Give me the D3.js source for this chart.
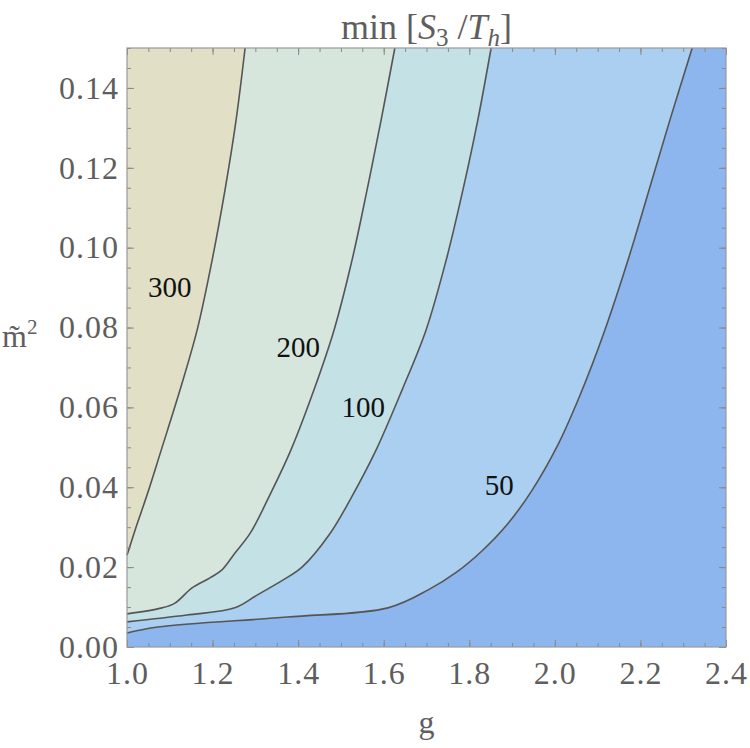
<!DOCTYPE html>
<html>
<head>
<meta charset="utf-8">
<script src="https://cdn.jsdelivr.net/npm/d3@7"></script>
<style>
  body { margin: 0; background: #fff; }
  text { font-family: "Liberation Serif", serif; }
</style>
</head>
<body>
<svg id="chart" width="750" height="748"></svg>
<script>
// contour lines, [g, m^2]
const contour300 = [[1.276, 0.1500], [1.255, 0.1320], [1.229, 0.1144], [1.199, 0.0969], [1.164, 0.0794],
  [1.124, 0.0644], [1.080, 0.0493], [1.047, 0.0381], [1.023, 0.0306], [1.000, 0.0230]];
const contour200 = [[1.626, 0.1500], [1.594, 0.1320], [1.561, 0.1144], [1.526, 0.0969], [1.484, 0.0794],
  [1.437, 0.0644], [1.383, 0.0493], [1.334, 0.0381], [1.288, 0.0285], [1.252, 0.0235], [1.222, 0.0193],
  [1.194, 0.0173], [1.152, 0.0148], [1.112, 0.0110], [1.082, 0.0098], [1.000, 0.0083]];
const contour100 = [[1.851, 0.1500], [1.820, 0.1320], [1.785, 0.1144], [1.746, 0.0969], [1.699, 0.0794],
  [1.643, 0.0644], [1.582, 0.0493], [1.521, 0.0368], [1.475, 0.0285], [1.409, 0.0200], [1.365, 0.0168],
  [1.304, 0.0130], [1.252, 0.0098], [1.140, 0.0080], [1.000, 0.0063]];
const contour50 = [[2.321, 0.1500], [2.269, 0.1320], [2.220, 0.1144], [2.171, 0.0969], [2.117, 0.0794],
  [2.059, 0.0631], [2.007, 0.0506], [1.947, 0.0393], [1.888, 0.0306], [1.832, 0.0243], [1.771, 0.0188],
  [1.704, 0.0143], [1.610, 0.0098], [1.374, 0.0075], [1.072, 0.0050], [1.000, 0.0035]];

const levels = [50, 100, 200, 300];
const contours = [contour50, contour100, contour200, contour300];
const fills = ["#8db6ef", "#abcff0", "#c4e2e6", "#d6e6dc", "#e1dfc6"]; // below 50 ... above 300
const labelAt = [[1.870, 0.0406], [1.552, 0.0601], [1.400, 0.0751], [1.100, 0.0902]];

const xTicks = [1.0, 1.2, 1.4, 1.6, 1.8, 2.0, 2.2, 2.4];
const yTicks = [0.00, 0.02, 0.04, 0.06, 0.08, 0.10, 0.12, 0.14];
const xMinor = d3.range(1.0, 2.4001, 0.05);
const yMinor = d3.range(0, 0.15001, 0.005);

const frame = { left: 127, right: 726, top: 48, bottom: 647 };
const svg = d3.select("#chart");

const x = d3.scaleLinear().domain([1.0, 2.4]).range([frame.left, frame.right]);
const y = d3.scaleLinear().domain([0, 0.15]).range([frame.bottom, frame.top]);
const line = d3.line().x(d => x(d[0])).y(d => y(d[1])).curve(d3.curveCatmullRom.alpha(0.5));

// base colour, then each region above a contour stacked on top
svg.append("rect")
  .attr("x", frame.left).attr("y", frame.top)
  .attr("width", frame.right - frame.left).attr("height", frame.bottom - frame.top)
  .attr("fill", fills[0]);

contours.forEach((c, i) => {
  svg.append("path")
    .attr("d", line(c) + `L${x(1.0)},${y(0.15)}Z`)
    .attr("fill", fills[i + 1]);
});

contours.forEach(c => {
  svg.append("path")
    .attr("d", line(c))
    .attr("fill", "none")
    .attr("stroke", "#555")
    .attr("stroke-width", 1.6);
});

svg.append("g").selectAll("text")
  .data(levels)
  .join("text")
  .attr("x", (d, i) => x(labelAt[i][0]))
  .attr("y", (d, i) => y(labelAt[i][1]))
  .attr("text-anchor", "middle")
  .attr("dy", "0.35em")
  .attr("font-size", 29)
  .attr("fill", "#111")
  .text(d => d);

// axes: ticks pointing inwards on all four sides
function styleAxis(g) {
  g.select(".domain").remove();
  g.selectAll(".tick line").attr("stroke", "#888");
  g.selectAll(".tick text").attr("fill", "#5e5e5e").attr("font-size", 32)
    .attr("font-family", "Liberation Serif").style("letter-spacing", "1px");
}

svg.append("g").attr("transform", `translate(0,${frame.bottom})`)
  .call(d3.axisBottom(x).tickValues(xMinor).tickSizeInner(-4).tickFormat(""))
  .call(styleAxis);
svg.append("g").attr("transform", `translate(0,${frame.bottom})`)
  .call(d3.axisBottom(x).tickValues(xTicks).tickSizeInner(-7).tickPadding(14)
    .tickFormat(d3.format(".1f")))
  .call(styleAxis);
svg.append("g").attr("transform", `translate(0,${frame.top})`)
  .call(d3.axisTop(x).tickValues(xMinor).tickSizeInner(-4).tickFormat(""))
  .call(styleAxis);
svg.append("g").attr("transform", `translate(0,${frame.top})`)
  .call(d3.axisTop(x).tickValues(xTicks).tickSizeInner(-7).tickFormat(""))
  .call(styleAxis);

svg.append("g").attr("transform", `translate(${frame.left},0)`)
  .call(d3.axisLeft(y).tickValues(yMinor).tickSizeInner(-4).tickFormat(""))
  .call(styleAxis);
svg.append("g").attr("transform", `translate(${frame.left},0)`)
  .call(d3.axisLeft(y).tickValues(yTicks).tickSizeInner(-7).tickPadding(8)
    .tickFormat(d3.format(".2f")))
  .call(styleAxis);
svg.append("g").attr("transform", `translate(${frame.right},0)`)
  .call(d3.axisRight(y).tickValues(yMinor).tickSizeInner(-4).tickFormat(""))
  .call(styleAxis);
svg.append("g").attr("transform", `translate(${frame.right},0)`)
  .call(d3.axisRight(y).tickValues(yTicks).tickSizeInner(-7).tickFormat(""))
  .call(styleAxis);

svg.append("rect")
  .attr("x", frame.left).attr("y", frame.top)
  .attr("width", frame.right - frame.left).attr("height", frame.bottom - frame.top)
  .attr("fill", "none").attr("stroke", "#999").attr("stroke-width", 1.2);

// title and axis labels
const title = svg.append("text")
  .attr("x", (frame.left + frame.right) / 2).attr("y", 39)
  .attr("text-anchor", "middle").attr("font-size", 36).attr("fill", "#5e5e5e");
title.append("tspan").text("min [");
title.append("tspan").attr("font-style", "italic").text("S");
title.append("tspan").attr("font-size", 25).attr("dy", 7).text("3");
title.append("tspan").attr("dy", -7).text(" /");
title.append("tspan").attr("font-style", "italic").text("T");
title.append("tspan").attr("font-style", "italic").attr("font-size", 25).attr("dy", 7).text("h");
title.append("tspan").attr("dy", -7).text("]");

svg.append("text")
  .attr("x", (frame.left + frame.right) / 2).attr("y", 733)
  .attr("text-anchor", "middle").attr("font-size", 32).attr("fill", "#5e5e5e")
  .text("g");

const ylab = svg.append("text")
  .attr("x", 2).attr("y", 347)
  .attr("font-size", 32).attr("fill", "#5e5e5e");
ylab.append("tspan").text("m\u0303");
ylab.append("tspan").attr("font-size", 21).attr("dy", -13).text("2");
</script>
</body>
</html>
